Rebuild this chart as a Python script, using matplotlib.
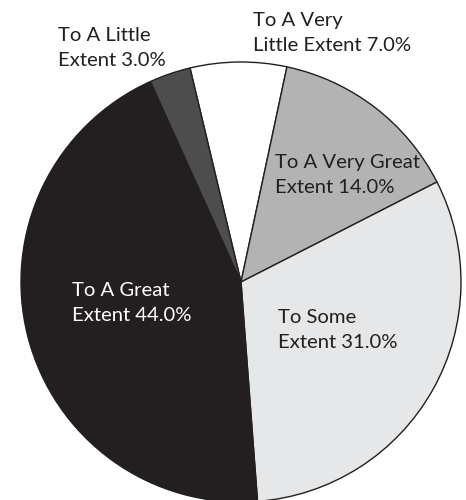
import matplotlib.pyplot as plt

# survey responses, listed clockwise from the top
labels = ["To A Very\nLittle Extent", "To A Very Great\nExtent", "To Some\nExtent",
          "To A Great\nExtent", "To A Little\nExtent"]
shares = [7.0, 14.0, 31.0, 44.0, 3.0]
colors = ["#ffffff", "#b3b3b3", "#e6e7e8", "#231f20", "#4d4d4d"]
text_colors = ["#231f20", "#231f20", "#231f20", "#ffffff", "#231f20"]

# where each label's top-left corner sits, in pixels of the 466x500 image
label_px = [(253, 12), (275, 154), (278, 309), (72, 282), (58, 27)]

W, H = 466, 500
cx, cy, r = 241, 282, 220

plt.rcParams['font.family'] = ['Lato', 'DejaVu Sans']

fig = plt.figure(figsize=(W / 100, H / 100), dpi=100)
ax = fig.add_axes([0, 0, 1, 1])

ax.pie(shares, colors=colors, startangle=103.4, counterclock=False,
       wedgeprops=dict(edgecolor="#231f20", linewidth=1.0))

ax.set_xlim(-cx / r, (W - cx) / r)
ax.set_ylim(-(H - cy) / r, cy / r)
ax.set_aspect("equal")
ax.axis("off")

for lab, val, (px, py), tc in zip(labels, shares, label_px, text_colors):
    ax.text((px - cx) / r, (cy - py) / r, f"{lab} {val:.1f}%",
            ha="left", va="top", fontsize=14.6, color=tc, linespacing=1.6)

fig.savefig("out.png", dpi=100)
